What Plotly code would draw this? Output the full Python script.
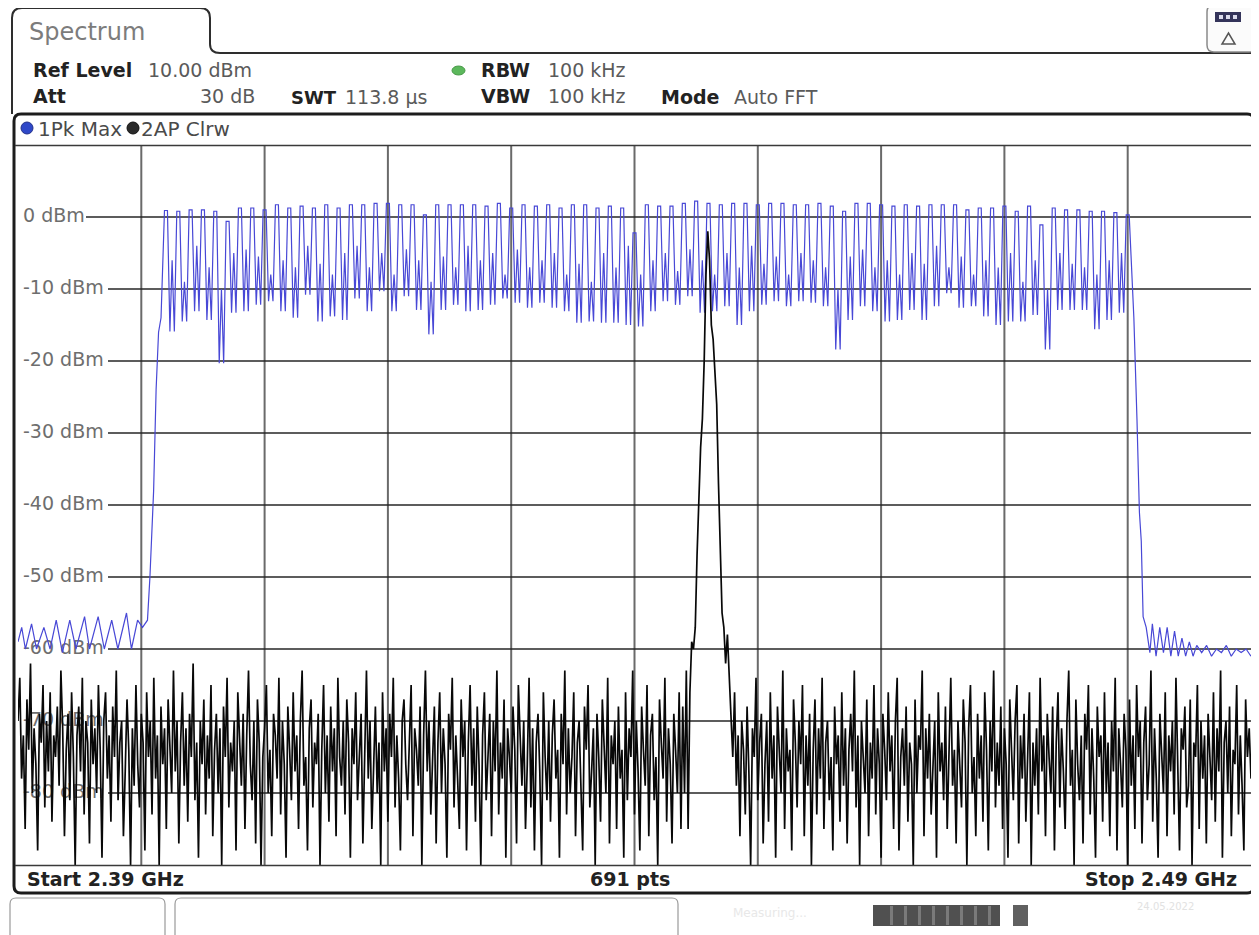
import numpy as np
import plotly.graph_objects as go

# page body has an 8 px default margin: figure is placed at (8, 8)
OFF = 8
FW, FH = 1251, 927
def px(x): return (x - OFF) / FW
def py(y): return 1 - (y - OFF) / FH

# ---------------- data ----------------
f_start_ghz, f_stop_ghz = 2.39, 2.49
grid_freqs_ghz = [2.40, 2.41, 2.42, 2.43, 2.44, 2.45, 2.46, 2.47, 2.48]
grid_levels = [0, -10, -20, -30, -40, -50, -60, -70, -80]
label_levels = [0, -10, -20, -30, -40, -50, -60, -70, -80]

# Trace 1 (Pk Max, blue): noise below band (MHz, dBm)
blue_left_f = [2390.0, 2390.3, 2390.6, 2391.1, 2391.5, 2392.1, 2392.6, 2393.1, 2393.6, 2394.2,
               2394.7, 2395.4, 2395.8, 2396.5, 2397.0, 2397.6, 2398.1, 2398.8, 2399.2, 2399.7,
               2400.1, 2400.5, 2400.7, 2401.0, 2401.2, 2401.4, 2401.6]
blue_left_v = [-59, -57, -60, -56.5, -60, -57, -60, -56, -60.5, -56,
               -60, -55.5, -60, -55.5, -60, -56, -60, -55, -60, -56,
               -57, -56, -50, -38, -24, -16, -14]

# Bluetooth channels 2402..2480 MHz: peak per channel; dip and middle hump between channels
channel_mhz = list(range(2402, 2481))
ch_peak = [0.9, 0.8, 1.0, 1.0, 0.8, -0.6, 1.25, 1.25, 1.0, 1.7,
           1.25, 1.5, 1.25, 1.7, 1.25, 1.7, 1.7, 1.9, 1.9, 1.7,
           1.7, 0.3, 1.7, 1.7, 1.7, 1.7, 1.5, 1.9, 1.25, 1.7,
           1.5, 1.7, 1.25, 1.7, 1.7, 1.25, 1.5, 1.25, -2.2, 1.7,
           1.5, 1.5, 1.9, 2.2, 1.9, 1.7, 1.9, 1.9, 1.7, 1.9,
           1.9, 1.7, 1.7, 1.9, 1.5, 0.8, 1.9, 1.9, 1.7, 1.5,
           1.7, 1.5, 1.7, 1.7, 1.7, 1.0, 1.25, 1.25, 1.5, 0.8,
           1.5, -1.1, 1.25, 1.0, 1.0, 0.8, 0.8, 0.6, 0.3]
ch_dip = [-15.9, -14.5, -13.1, -14.3, -20.3, -13.3, -13.1, -12.2, -11.7, -13.1,
          -14.0, -10.8, -14.5, -13.8, -14.3, -11.3, -13.1, -10.3, -13.1, -11.0,
          -12.9, -16.3, -12.9, -12.2, -13.1, -12.9, -12.2, -11.3, -11.9, -12.6,
          -11.9, -12.6, -13.1, -14.7, -14.5, -14.7, -14.7, -15.0, -15.2, -13.1,
          -11.7, -12.2, -11.0, -13.3, -13.1, -12.4, -15.0, -13.1, -12.2, -11.7,
          -12.4, -11.7, -11.9, -12.4, -18.4, -14.3, -12.4, -13.1, -14.5, -14.3,
          -12.9, -14.3, -12.4, -10.6, -12.6, -12.4, -13.8, -15.0, -14.5, -14.5,
          -13.6, -18.4, -12.9, -12.9, -12.9, -15.6, -14.3, -13.3]
ch_hump = [-6, -9, -4, -7, -10, -5, -4.5, -5.5, -8, -6,
           -7, -4, -6.5, -8, -5, -4, -7, -5, -8, -4.5,
           -6, -9, -5.5, -7, -4, -6, -5, -8, -4.5, -7,
           -6, -5, -8, -6.5, -9, -5, -7, -4, -8, -6,
           -5, -7.5, -4.5, -6, -8, -5, -7, -4, -6.5, -5.5,
           -8, -5, -6, -7, -10, -5.5, -4.5, -7, -6, -8,
           -5, -6.5, -4, -7, -5.5, -8, -6, -7, -5, -9,
           -6, -10, -5, -6.5, -7, -8, -6, -5]

# noise above band (MHz, dBm)
blue_right_f = [2480.5, 2480.75, 2480.95, 2481.1, 2481.25, 2481.5, 2481.8, 2482.0, 2482.3, 2482.6,
                2482.9, 2483.2, 2483.5, 2483.8, 2484.1, 2484.4, 2484.7, 2485.0, 2485.3, 2485.6,
                2486.0, 2486.4, 2486.8, 2487.2, 2487.6, 2488.0, 2488.4, 2488.8, 2489.2, 2489.6, 2490.0]
blue_right_v = [-14, -28, -41, -45, -55.5, -57, -60.5, -56.5, -61, -57,
                -60.5, -57, -61, -57.5, -61, -58.5, -61, -59, -61, -59.5,
                -60.5, -59.5, -61, -60, -60.5, -59.5, -61, -60, -60.5, -60, -61]

# Trace 2 (AP Clrw, black): 691 sweep points, dBm
black_dbm = [
 -70,-64,-78,-72,-85,-67,-74,-62,-80,-71,-76,-88,-69,-73,-65,-82,-70,-77,-66,-84,-72,-75,-68,
 -79,-63,-71,-86,-74,-69,-81,-66,-75,-90,-72,-68,-77,-64,-83,-70,-73,-87,-67,-76,-71,-80,-65,
 -74,-89,-70,-66,-78,-72,-84,-68,-75,-63,-81,-73,-70,-86,-77,-67,-74,-90,-71,-79,-65,-76,-82,
 -69,-73,-88,-66,-75,-70,-83,-64,-78,-72,-90,-68,-76,-71,-85,-67,-74,-80,-63,-77,-70,-87,-73,
 -66,-79,-71,-84,-69,-75,-62,-81,-73,-89,-70,-76,-67,-83,-72,-78,-65,-86,-74,-69,-80,-71,-90,
 -68,-75,-64,-82,-73,-77,-70,-88,-66,-74,-79,-69,-85,-72,-63,-76,-81,-70,-87,-67,-73,-90,-75,
 -71,-65,-80,-74,-86,-69,-72,-78,-64,-83,-70,-76,-89,-68,-74,-81,-66,-77,-72,-85,-70,-63,-79,
 -75,-88,-71,-67,-82,-73,-76,-69,-90,-74,-65,-80,-72,-84,-68,-77,-71,-86,-64,-75,-79,-70,-83,
 -67,-73,-89,-71,-76,-66,-81,-74,-69,-87,-72,-63,-78,-70,-85,-75,-68,-80,-73,-90,-66,-77,-71,
 -84,-69,-75,-64,-82,-72,-78,-88,-70,-67,-76,-81,-73,-65,-86,-71,-74,-79,-68,-90,-72,-63,-77,
 -70,-83,-75,-68,-87,-73,-66,-80,-71,-76,-89,-69,-74,-64,-82,-72,-78,-85,-67,-75,-70,-88,-73,
 -65,-79,-71,-84,-68,-76,-90,-72,-66,-81,-74,-69,-86,-70,-77,-63,-83,-73,-78,-67,-89,-71,-75,
 -80,-68,-74,-87,-65,-72,-79,-70,-85,-76,-64,-82,-71,-88,-73,-69,-77,-90,-66,-75,-81,-70,-84,
 -72,-67,-78,-74,-89,-69,-76,-63,-83,-71,-80,-75,-66,-86,-73,-70,-79,-88,-68,-74,-65,-82,-77,
 -71,-90,-69,-75,-84,-67,-73,-80,-64,-87,-72,-76,-70,-85,-68,-78,-74,-89,-66,-81,-71,-75,-63,
 -83,-70,-77,-88,-68,-74,-79,-65,-86,-72,-69,-81,-75,-90,-67,-73,-78,-64,-84,-71,-76,-87,-69,
 -74,-80,-66,-85,-68,-80,-63,-85,-66,-59,-60,-57,-47,-38,-32,-28,-20,-8,-2,-6,-15,-17,-22,
 -26,-37,-48,-55,-57,-62,-58,-63,-70,-75,-66,-79,-72,-86,-70,-74,-83,-68,-77,-90,-71,-75,-64,
 -81,-73,-69,-87,-76,-70,-84,-66,-78,-72,-89,-68,-75,-80,-63,-85,-71,-77,-74,-88,-67,-73,-82,
 -70,-76,-65,-86,-72,-79,-69,-90,-74,-67,-83,-71,-78,-64,-85,-73,-70,-81,-75,-88,-68,-76,-72,
 -84,-66,-79,-71,-87,-74,-69,-77,-63,-82,-72,-90,-70,-75,-80,-67,-86,-73,-78,-65,-83,-71,-76,
 -89,-69,-74,-81,-66,-77,-72,-85,-70,-64,-88,-75,-71,-79,-68,-84,-73,-76,-90,-67,-80,-72,-74,
 -63,-86,-71,-78,-69,-83,-75,-70,-89,-66,-77,-73,-81,-68,-85,-72,-64,-79,-74,-87,-70,-76,-82,
 -67,-73,-90,-71,-65,-80,-75,-86,-69,-78,-72,-84,-66,-74,-88,-70,-77,-63,-82,-73,-79,-68,-85,
 -71,-76,-89,-67,-74,-81,-70,-65,-87,-72,-78,-69,-84,-75,-66,-90,-73,-79,-71,-83,-64,-77,-72,
 -86,-69,-75,-80,-68,-88,-73,-66,-82,-71,-77,-85,-70,-63,-79,-74,-90,-67,-76,-81,-72,-87,-69,
 -74,-65,-83,-71,-78,-89,-68,-75,-72,-84,-66,-80,-73,-86,-70,-77,-64,-88,-71,-76,-82,-69,-74,
 -90,-67,-79,-72,-85,-65,-75,-70,-87,-73,-68,-81,-76,-63,-84,-71,-78,-89,-69,-74,-80,-66,-86,
 -72,-77,-70,-83,-64,-76,-88,-71,-74,-68,-82,-79,-67,-90,-73,-75,-65,-85,-70,-78,-72,-87,-69,
 -75,-81,-66,-84,-71,-77,-63,-89,-73,-70,-80,-68,-86,-74,-76,-65,-83,-72,-79,-88,-67,-75,-71,
 -78]
assert len(black_dbm) == 691, len(black_dbm)

# ---------------- build traces ----------------
bf, bv = list(blue_left_f), list(blue_left_v)
for k, c in enumerate(channel_mhz):
    bf += [c - 0.12, c + 0.12]
    bv += [ch_peak[k], ch_peak[k]]
    if k < len(ch_dip):
        bf += [c + 0.32, c + 0.5, c + 0.68]
        bv += [ch_dip[k], ch_hump[k], ch_dip[k]]
bf += blue_right_f
bv += blue_right_v
blue_x = np.array(bf) / 1000.0
black_x = np.linspace(f_start_ghz, f_stop_ghz, len(black_dbm))

FONT = "DejaVu Sans"
fig = go.Figure()

# level labels (drawn beneath the traces)
lab_x = f_start_ghz + (f_stop_ghz - f_start_ghz) * (5.0 / 1233.0)
fig.add_trace(go.Scatter(
    x=[lab_x] * len(label_levels), y=label_levels,
    text=[f"{v} dBm" for v in label_levels], mode="text",
    textposition="middle right",
    textfont=dict(family=FONT, size=19, color="#6e6e6e"),
    hoverinfo="skip", showlegend=False, cliponaxis=False))

fig.add_trace(go.Scatter(x=blue_x, y=bv, mode="lines",
                         line=dict(color="#4848d6", width=1.2),
                         hoverinfo="skip", showlegend=False))
fig.add_trace(go.Scatter(x=black_x, y=black_dbm, mode="lines",
                         line=dict(color="#080808", width=1.7),
                         hoverinfo="skip", showlegend=False))

fig.update_xaxes(range=[f_start_ghz, f_stop_ghz], domain=[px(18), px(1251)],
                 showgrid=False, showticklabels=False, zeroline=False, ticks="",
                 showline=False, fixedrange=True)
fig.update_yaxes(range=[-90, 10], domain=[py(865), py(145)],
                 showgrid=False, showticklabels=False, zeroline=False, ticks="",
                 showline=False, fixedrange=True)

shapes = []
# grid (below traces)
for g in grid_freqs_ghz:
    shapes.append(dict(type="line", xref="x", yref="paper", x0=g, x1=g,
                       y0=py(865), y1=py(145), line=dict(color="#6a6a6a", width=2),
                       layer="below"))
for g in grid_levels:
    shapes.append(dict(type="line", xref="paper", yref="y", x0=px(18), x1=px(1251),
                       y0=g, y1=g, line=dict(color="#262626", width=1.3),
                       layer="below"))

def rect(x0, y0, x1, y1, fill=None, line=None, lw=0, layer="above"):
    shapes.append(dict(type="rect", xref="paper", yref="paper",
                       x0=px(x0), x1=px(x1), y0=py(y1), y1=py(y0),
                       fillcolor=fill or "rgba(0,0,0,0)",
                       line=dict(color=line or "rgba(0,0,0,0)", width=lw),
                       layer=layer))
def hline(x0, x1, y, color, lw):
    shapes.append(dict(type="line", xref="paper", yref="paper",
                       x0=px(x0), x1=px(x1), y0=py(y), y1=py(y),
                       line=dict(color=color, width=lw), layer="above"))
def rpath(x0, y0, x1, y1, r, color, lw, fill=None):
    p = (f"M {px(x0+r)},{py(y0)} L {px(x1-r)},{py(y0)} Q {px(x1)},{py(y0)} {px(x1)},{py(y0+r)} "
         f"L {px(x1)},{py(y1-r)} Q {px(x1)},{py(y1)} {px(x1-r)},{py(y1)} "
         f"L {px(x0+r)},{py(y1)} Q {px(x0)},{py(y1)} {px(x0)},{py(y1-r)} "
         f"L {px(x0)},{py(y0+r)} Q {px(x0)},{py(y0)} {px(x0+r)},{py(y0)} Z")
    shapes.append(dict(type="path", xref="paper", yref="paper", path=p,
                       line=dict(color=color, width=lw),
                       fillcolor=fill or "rgba(0,0,0,0)", layer="above"))

# white backgrounds under the level labels (cover gridlines, stay under traces)
label_right = {0: 86, -10: 108, -20: 108, -30: 108, -40: 108, -50: 108, -60: 108, -70: 108, -80: 108}
for v in label_levels:
    yc = 145 + (10 - v) * 7.2
    rect(15, yc - 7, label_right[v], yc + 7, fill="white", layer="below")

# header tab
tab = (f"M {px(12)},{py(114)} L {px(12)},{py(18)} Q {px(12)},{py(8)} {px(22)},{py(8)} "
       f"L {px(200)},{py(8)} Q {px(210)},{py(8)} {px(210)},{py(18)} "
       f"L {px(210)},{py(44)} Q {px(210)},{py(53)} {px(220)},{py(53)} L {px(1259)},{py(53)}")
shapes.append(dict(type="path", xref="paper", yref="paper", path=tab,
                   line=dict(color="#2e2e2e", width=2), layer="above"))
# icon box
rpath(1207, 5, 1256, 52, 7, "#8a8a8a", 1.5, fill="#fbfbfb")
rect(1215, 12, 1241, 22, fill="#34345a")
for xs in (1219, 1226, 1233):
    rect(xs, 15, xs + 4, 19, fill="#dcdcec")
shapes.append(dict(type="path", xref="paper", yref="paper",
                   path=f"M {px(1222)},{py(44)} L {px(1235)},{py(44)} L {px(1228.5)},{py(33)} Z",
                   line=dict(color="#555", width=1.5), layer="above"))

# main frame
rpath(14, 114, 1254, 893, 7, "#1c1c1c", 3)
hline(15, 1253, 145.5, "#3a3a3a", 1.5)
hline(15, 1253, 865.5, "#3a3a3a", 1.5)

# status dots
shapes.append(dict(type="circle", xref="paper", yref="paper",
                   x0=px(452), x1=px(465), y0=py(75), y1=py(66),
                   fillcolor="#5cb85c", line=dict(color="#4a9a4a", width=1)))
shapes.append(dict(type="circle", xref="paper", yref="paper",
                   x0=px(21), x1=px(33), y0=py(134), y1=py(122),
                   fillcolor="#2f48c8", line=dict(color="#22308a", width=1)))
shapes.append(dict(type="circle", xref="paper", yref="paper",
                   x0=px(127), x1=px(139), y0=py(134), y1=py(122),
                   fillcolor="#2a2a2a", line=dict(color="#111", width=1)))

# bottom status bar
rpath(10, 898, 165, 945, 6, "#9a9a9a", 1.2)
rpath(175, 898, 678, 945, 6, "#9a9a9a", 1.2)
rect(873, 905, 1000, 926, fill="#505050")
for xs in range(890, 1000, 14):
    rect(xs, 906, xs + 3, 925, fill="#7a7a7a")
rect(1013, 905, 1028, 926, fill="#606060")

fig.update_layout(shapes=shapes)

ann = []
def text(x, y, s, size=19, color="#333", anchor="left", bold=False, family=FONT):
    if bold:
        s = f"<b>{s}</b>"
    ann.append(dict(x=px(x), y=py(y), xref="paper", yref="paper", text=s,
                    showarrow=False, xanchor=anchor, yanchor="middle",
                    font=dict(family=family, size=size, color=color)))

text(27, 32, "Spectrum", size=24, color="#7c7c7c")
text(31, 70, "Ref Level", bold=True, color="#222")
text(146, 70, "10.00 dBm", color="#5a5a5a")
text(31, 96, "Att", bold=True, color="#222")
text(257, 96, "30 dB", color="#5a5a5a", anchor="right")
text(289, 97, "SWT", size=18, bold=True, color="#222")
text(343, 97, "113.8 µs", color="#5a5a5a")
text(479, 70, "RBW", bold=True, color="#222")
text(546, 70, "100 kHz", color="#5a5a5a")
text(479, 96, "VBW", bold=True, color="#222")
text(546, 96, "100 kHz", color="#5a5a5a")
text(659, 97, "Mode", bold=True, color="#222")
text(732, 97, "Auto FFT", color="#5a5a5a")
text(36, 129, "1Pk Max", size=20, color="#4a4a4a")
text(139, 129, "2AP Clrw", size=20, color="#4a4a4a")
text(25, 879, "Start 2.39 GHz", size=19, bold=True, color="#222")
text(630, 879, "691 pts", size=19, bold=True, color="#222", anchor="center")
text(1239, 879, "Stop 2.49 GHz", size=19, bold=True, color="#222", anchor="right")
text(770, 913, "Measuring...", size=12, color="#e8e8e8", anchor="center")
text(1165, 906, "24.05.2022", size=10, color="#e2e2e2", anchor="center")

fig.update_layout(annotations=ann, width=FW, height=FH, autosize=False,
                  margin=dict(l=0, r=0, t=0, b=0),
                  paper_bgcolor="white", plot_bgcolor="white",
                  showlegend=False)

fig.write_html("out.html", config={"displayModeBar": False})
